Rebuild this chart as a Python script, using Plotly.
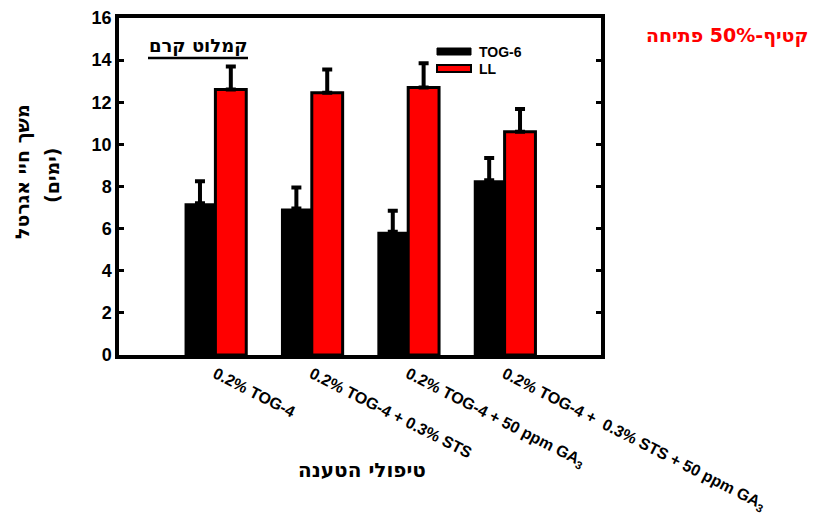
import plotly.graph_objects as go

# Treatments (x categories)
treatments = [
    "0.2% TOG-4",
    "0.2% TOG-4 + 0.3% STS",
    "0.2% TOG-4 + 50 ppm GA<sub>3</sub>",
    "0.2% TOG-4 +  0.3% STS + 50 ppm GA<sub>3</sub>",
]
# Vase life (days) and upper error per series
tog6_values = [7.2, 6.95, 5.85, 8.3]
tog6_errors = [1.05, 1.0, 1.0, 1.05]
ll_values = [12.6, 12.45, 12.7, 10.6]
ll_errors = [1.1, 1.1, 1.15, 1.08]
y_ticks = [0, 2, 4, 6, 8, 10, 12, 14, 16]

FONT = "Liberation Sans, Arial, sans-serif"
HEB = "DejaVu Sans, sans-serif"
W, H = 814, 516
L, R, T, B = 119, 601, 18, 355  # plot area in pixels


def px(x):
    return (x - L) / (R - L)


def py(y):
    return (B - y) / (B - T)


fig = go.Figure()
fig.add_trace(go.Bar(
    x=treatments, y=tog6_values, name="TOG-6",
    marker=dict(color="black", line=dict(color="black", width=0)),
    error_y=dict(type="data", symmetric=False, array=tog6_errors,
                 arrayminus=[0] * len(tog6_errors),
                 color="black", thickness=4, width=5),
))
fig.add_trace(go.Bar(
    x=treatments, y=ll_values, name="LL",
    marker=dict(color="#FF0000", line=dict(color="black", width=3)),
    error_y=dict(type="data", symmetric=False, array=ll_errors,
                 arrayminus=[0] * len(ll_errors),
                 color="black", thickness=4, width=5),
))

fig.update_layout(
    width=W, height=H,
    margin=dict(l=L, r=W - R, t=T, b=H - B, pad=0, autoexpand=False),
    paper_bgcolor="white", plot_bgcolor="white",
    barmode="group", bargap=0.36, bargroupgap=0,
    showlegend=False,
    font=dict(family=FONT, color="black"),
)
fig.update_xaxes(
    range=[-1, 4], showline=True, linecolor="black", linewidth=3.5,
    mirror=True, ticks="", showgrid=False, zeroline=False, automargin=False,
    tickangle=27, tickfont=dict(family=FONT, size=16, color="black", weight="bold"),
)
fig.update_yaxes(
    range=[0, 16], tickvals=y_ticks, showline=True, linecolor="black",
    linewidth=3.5, mirror="ticks", ticks="inside", ticklen=5, tickwidth=3,
    tickcolor="black", showgrid=False, zeroline=False, automargin=False,
    tickfont=dict(family=FONT, size=18, color="black", weight="bold"),
)

# Legend swatches drawn as bars
fig.add_shape(type="rect", xref="paper", yref="paper",
              x0=px(437), x1=px(471), y0=py(55), y1=py(48),
              fillcolor="black", line=dict(color="black", width=1))
fig.add_shape(type="rect", xref="paper", yref="paper",
              x0=px(437), x1=px(471), y0=py(72), y1=py(65),
              fillcolor="#FF0000", line=dict(color="black", width=2))
fig.add_annotation(text="<b>TOG-6</b>", xref="paper", yref="paper",
                   x=px(477), y=py(51.5), xanchor="left", yanchor="middle",
                   showarrow=False, font=dict(size=14, family=FONT))
fig.add_annotation(text="<b>LL</b>", xref="paper", yref="paper",
                   x=px(477), y=py(68.5), xanchor="left", yanchor="middle",
                   showarrow=False, font=dict(size=14, family=FONT))

# Cultivar label with underline
fig.add_annotation(text="<b>קמלוט קרם</b>", xref="paper", yref="paper",
                   x=px(198), y=py(46), xanchor="center", yanchor="middle",
                   showarrow=False, font=dict(size=18, family=HEB))
fig.add_shape(type="line", xref="paper", yref="paper",
              x0=px(148), x1=px(248), y0=py(58), y1=py(58),
              line=dict(color="black", width=2.5))

# Harvest stage label
fig.add_annotation(text="<b>קטיף-50% פתיחה</b>", xref="paper", yref="paper",
                   x=px(727), y=py(36), xanchor="center", yanchor="middle",
                   showarrow=False, font=dict(size=19, family=HEB, color="#FF0000"))

# Axis titles
fig.add_annotation(text="<b>טיפולי הטענה</b>", xref="paper", yref="paper",
                   x=px(362), y=py(470), xanchor="center", yanchor="middle",
                   showarrow=False, font=dict(size=20, family=HEB))
fig.add_annotation(text="<b>משך חיי אגרטל</b>", xref="paper", yref="paper",
                   x=px(22), y=py(172), xanchor="center", yanchor="middle",
                   textangle=-90, showarrow=False, font=dict(size=19, family=HEB))
fig.add_annotation(text="<b>(ימים)</b>", xref="paper", yref="paper",
                   x=px(52), y=py(175), xanchor="center", yanchor="middle",
                   textangle=-90, showarrow=False, font=dict(size=19, family=HEB))

fig.write_html("out.html")
